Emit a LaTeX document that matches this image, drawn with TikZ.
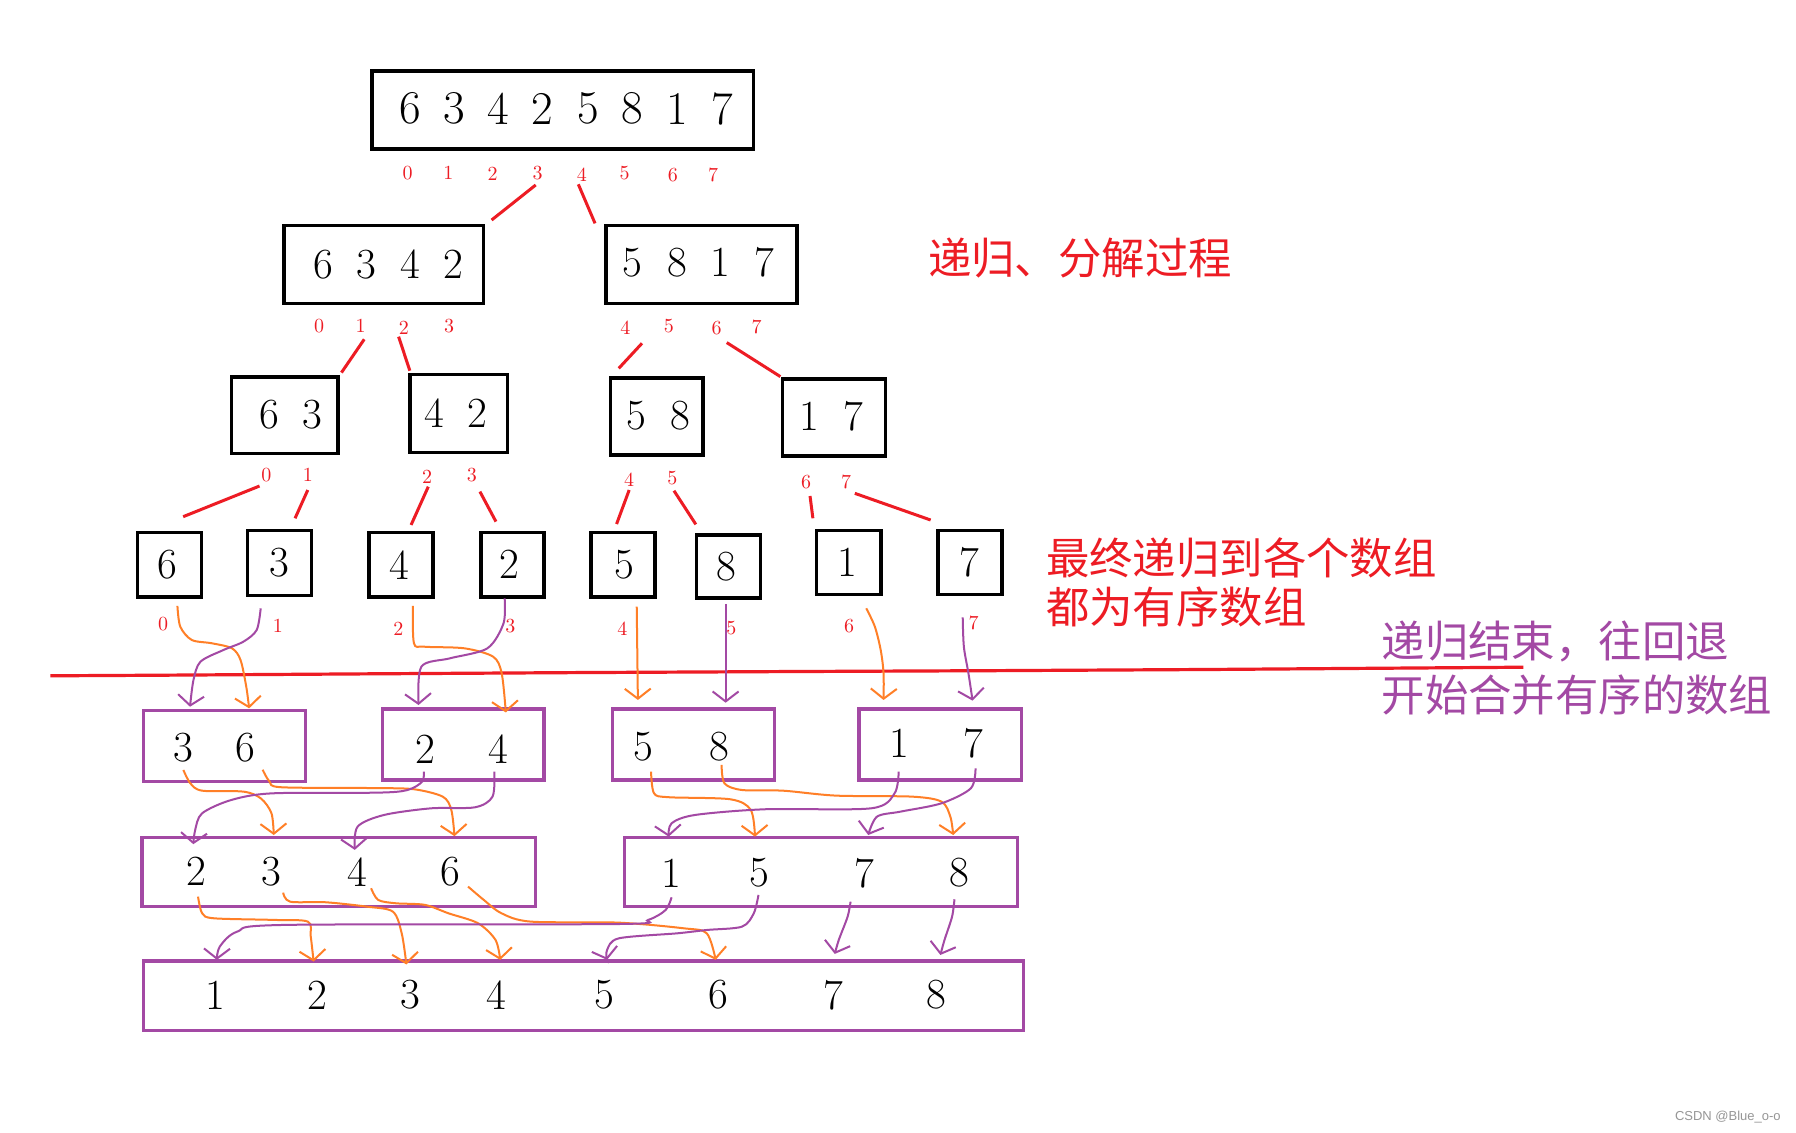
\documentclass[tikz,border=0pt]{standalone}
\usepackage{fontspec}
\newfontfamily\cjk{Noto Sans CJK SC}
\newfontfamily\wmfont{Liberation Sans}
\usetikzlibrary{arrows.meta,fit}
\definecolor{pred}{RGB}{237,28,36}
\definecolor{porange}{RGB}{255,127,39}
\definecolor{ppurple}{RGB}{163,73,164}
\definecolor{wmgray}{RGB}{150,150,150}
\begin{document}
\begin{tikzpicture}[x=0.5727pt,y=-0.5727pt,
  blackbox/.style={draw=black,line width=1.8pt,inner sep=0pt,rectangle},
  purplebox/.style={draw=ppurple,line width=1.6pt,inner sep=0pt,rectangle},
  dig/.style={inner sep=0pt,font=\fontsize{21.5}{24}\selectfont},
  bigdig/.style={inner sep=0pt,font=\fontsize{23.5}{26}\selectfont},
  idx/.style={inner sep=0pt,text=pred,font=\fontsize{10}{12}\selectfont},
  treeline/.style={draw=pred,line width=1.5pt},
  sepline/.style={draw=pred,line width=1.6pt},
  omove/.style={draw=porange,line width=1pt,-{Straight Barb[length=5pt,width=13pt]}},
  pmove/.style={draw=ppurple,line width=1pt,-{Straight Barb[length=5pt,width=13pt]}},
  redtext/.style={text=pred,font=\cjk\fontsize{21.7}{26}\selectfont,anchor=west,inner sep=0pt},
  purpletext/.style={text=ppurple,font=\cjk\fontsize{21.7}{26}\selectfont,anchor=west,inner sep=0pt},
  wmark/.style={text=wmgray,font=\wmfont\fontsize{6.5}{8}\selectfont,anchor=east,inner sep=0pt}
]
\fill[white] (0,0) rectangle (1568,989);
\useasboundingbox (0,0) rectangle (1568,989);

% ---------- level 1 ----------
\node[blackbox,fit={(325,62) (658,130)}] (T) {};
\foreach \d/\x [count=\i] in {6/358.6,3/396.6,4/435.1,2/473.8,5/513.6,8/552.4,1/590.9,7/630.2}
  \node[bigdig] (t\i) at (\x,95) {\d};
\foreach \d/\x/\y in {0/355.9/150.7,1/391.4/150.7,2/430.1/152.2,3/469.4/150.7,4/508.1/152.2,5/545.3/150.7,6/587.5/152.8,7/622.5/152.8}
  \node[idx] (ti\d) at (\x,\y) {\d};
\draw[treeline] (467.7,161.5) -- (429.2,192.1);
\draw[treeline] (504.9,160.9) -- (519.5,195);

% ---------- level 2 ----------
\node[blackbox,fit={(248,197) (422,265)}] (La) {};
\node[blackbox,fit={(529,197) (696,265)}] (Lb) {};
\foreach \d/\x [count=\i] in {6/282,3/320,4/358,2/396}
  \node[dig] (la\i) at (\x,231) {\d};
\foreach \d/\x [count=\i] in {5/552,8/591,1/629,7/667}
  \node[dig] (lb\i) at (\x,229) {\d};
\foreach \d/\x/\y in {0/278.6/284.6,1/314.9/284.6,2/352.7/285.8,3/392/284.6,4/546/285.8,5/583.9/284.6,6/625.6/286.6,7/660.6/285.8}
  \node[idx] (li\d) at (\x,\y) {\d};
\draw[treeline] (318,296.2) -- (298.1,325.3);
\draw[treeline] (348,293.9) -- (357.8,323.6);
\draw[treeline] (560.5,299.7) -- (540.2,321.6);
\draw[treeline] (634.5,299.1) -- (681.3,328.8);

% ---------- level 3 ----------
\node[blackbox,fit={(202,329) (295,396)}] (Ma) {};
\node[blackbox,fit={(358,327) (443,395)}] (Mb) {};
\node[blackbox,fit={(533,330) (614,397)}] (Mc) {};
\node[blackbox,fit={(683,331) (773,398)}] (Md) {};
\node[dig] (ma1) at (235,362) {6};
\node[dig] (ma2) at (273,362) {3};
\node[dig] (mb1) at (379,361) {4};
\node[dig] (mb2) at (417,361) {2};
\node[dig] (mc1) at (556,363) {5};
\node[dig] (mc2) at (594,363) {8};
\node[dig] (md1) at (707,363) {1};
\node[dig] (md2) at (745,363) {7};
\foreach \d/\x/\y in {0/232.6/414.7,1/268.7/414.7,2/372.9/416.1,3/412/414.7,4/549.3/419,5/587/417.6,6/703.7/420.5,7/738.8/420.5}
  \node[idx] (mi\d) at (\x,\y) {\d};
\draw[treeline] (226.6,424.3) -- (159.9,451.1);
\draw[treeline] (268.7,427.8) -- (257.6,452.5);
\draw[treeline] (373.9,424.9) -- (358.9,458.3);
\draw[treeline] (419,429.2) -- (433,455.4);
\draw[treeline] (549.3,427.8) -- (538.3,457.5);
\draw[treeline] (588.4,428.4) -- (607.5,457.8);
\draw[treeline] (707.2,433) -- (709.7,452.5);
\draw[treeline] (746.3,430.7) -- (812.5,454);

% ---------- level 4 ----------
\foreach \d/\xa/\ya/\xb/\yb/\dx [count=\i] in {6/120/465/176/521/146,3/216/463/272/520/244,4/322/465/378/521/349,2/420/465/475/521/445,5/516/465/572/521/545,8/608/467/664/522/634,1/713/463/769/519/740,7/819/463/875/519/846}{
  \node[blackbox,fit={(\xa,\ya) (\xb,\yb)}] (S\i) {};
  \node[dig] (s\i) at (\dx,{(\ya+\yb)/2}) {\d};
}
\foreach \d/\x/\y in {0/142.4/545,1/242.6/546.2,2/347.8/548.6,3/445.6/546.2,4/543.3/548.6,5/638.5/548.6,6/741.3/546.2,7/850/544}
  \node[idx] (si\d) at (\x,\y) {\d};

% ---------- separator ----------
\draw[sepline] (44,590) -- (137,589.5) -- (320,588.3) -- (503,587.2) -- (686,586.3) -- (870,585.5) -- (1053,584.5) -- (1330,582.5);

% ---------- texts ----------
\node[redtext] (txt1) at (810,225) {递归、分解过程};
\node[redtext] (txt2) at (913,487) {最终递归到各个数组};
\node[redtext] (txt3) at (913,530) {都为有序数组};
\node[purpletext] (txt4) at (1206,560) {递归结束，往回退};
\node[purpletext] (txt5) at (1206,607) {开始合并有序的数组};

% ---------- level 5 ----------
\node[purplebox,fit={(125,620) (267,682)}] (Pa) {};
\node[purplebox,fit={(334,619) (475,681)}] (Pb) {};
\node[purplebox,fit={(535,619) (676,681)}] (Pc) {};
\node[purplebox,fit={(750,619) (892,681)}] (Pd) {};
\node[dig] (pa1) at (160,653) {3};
\node[dig] (pa2) at (214,653) {6};
\node[dig] (pb1) at (371,654) {2};
\node[dig] (pb2) at (435,654) {4};
\node[dig] (pc1) at (562,652) {5};
\node[dig] (pc2) at (628,652) {8};
\node[dig] (pd1) at (785,649) {1};
\node[dig] (pd2) at (850,649) {7};

% arrows level 4 -> 5
\draw[omove] plot[smooth,tension=0.5] coordinates {(154.9,529) (157.4,547.1) (167.4,558.7) (185,561.6) (202.5,566) (210,576.2) (215,599.5) (217.5,618.4)};
\draw[pmove] plot[smooth,tension=0.5] coordinates {(227.6,531.1) (224.1,550) (212.5,560.2) (195,567.5) (175,577.7) (168.9,593.7) (165.9,617)};
\draw[omove] plot[smooth,tension=0.5] coordinates {(360.4,529) (361.4,561.6) (370.4,564.6) (405.5,566) (430.5,573.3) (438,587.8) (441.6,622)};
\draw[pmove] plot[smooth,tension=0.5] coordinates {(440.6,522.4) (439.6,544.2) (425.5,566) (393,574.7) (367.9,582) (365.4,615.5)};
\draw[omove] (555.9,529.6) -- (556.9,611.1);
\draw[pmove] (633.5,527.3) -- (633.5,613.5);
\draw[omove] plot[smooth,tension=0.5] coordinates {(756.3,531.1) (763.8,547.1) (768.9,567.5) (771.4,587.8) (771.4,611.1)};
\draw[pmove] plot[smooth,tension=0.5] coordinates {(840.5,539) (841.5,564.6) (845.5,587.8) (849.1,611.7)};

% ---------- level 6 ----------
\node[purplebox,fit={(124,731.5) (467.5,791.5)}] (Qa) {};
\node[purplebox,fit={(545.4,731.5) (888.6,791.5)}] (Qb) {};
\node[dig] (qa1) at (171.4,761) {2};
\node[dig] (qa2) at (237,761) {3};
\node[dig] (qa3) at (312.3,761) {4};
\node[dig] (qa4) at (393.2,761) {6};
\node[dig] (qb1) at (586.3,762) {1};
\node[dig] (qb2) at (663.2,762) {5};
\node[dig] (qb3) at (754.4,762) {7};
\node[dig] (qb4) at (837.3,762) {8};

% arrows level 5 -> 6
\draw[omove] plot[smooth,tension=0.5] coordinates {(160.1,672.2) (166.2,683.9) (176.5,690.3) (212.4,691.1) (227.7,697) (237,710) (239,729)};
\draw[omove] plot[smooth,tension=0.5] coordinates {(229.3,672) (235.4,682.4) (245.7,687.3) (325,688) (361,689) (386.5,695.5) (394,707) (396.8,730)};
\draw[pmove] plot[smooth,tension=0.5] coordinates {(370,673.7) (368.6,682.4) (355.8,689.7) (330,692) (238,692.6) (202,698.4) (176.5,710) (170.4,724.6) (168.8,737)};
\draw[pmove] plot[smooth,tension=0.5] coordinates {(431.6,673.7) (430,695.5) (414.7,704.8) (376.3,705.7) (335.3,711.5) (312.2,721.7) (309.7,742)};
\draw[omove] plot[smooth,tension=0.5] coordinates {(568.4,673.7) (571,692.6) (583.8,696) (637.6,697.8) (655.5,707.1) (659.1,730.4)};
\draw[omove] plot[smooth,tension=0.5] coordinates {(630,667.8) (632.5,683.9) (647.8,689.7) (683.7,690.3) (729.8,694.6) (796.4,695.5) (822,699.9) (829.7,713) (832.2,729)};
\draw[pmove] plot[smooth,tension=0.5] coordinates {(784.6,673.7) (781,692.6) (760.5,705.7) (668.3,706.5) (606.8,711.5) (586.3,718.8) (583.8,730.4)};
\draw[pmove] plot[smooth,tension=0.5] coordinates {(851.7,670.8) (847.6,688.2) (822,701.3) (786.1,708.6) (765.6,713) (758,729)};

% ---------- level 7 ----------
\node[purplebox,fit={(125.3,839) (893.7,899.8)}] (R) {};
\foreach \d/\x [count=\i] in {1/187.8,2/277.4,3/358.4,4/433.7,5/527.4,6/627.3,7/727.2,8/817.9}
  \node[dig] (r\i) at (\x,868.6) {\d};

% arrows level 6 -> 7
\draw[omove] plot[smooth,tension=0.5] coordinates {(172.9,782.8) (176.5,797.3) (186.7,801.7) (238,803.1) (268.7,804.6) (271.3,817.6) (273.8,839.5)};
\draw[omove] plot[smooth,tension=0.5] coordinates {(247.2,779.3) (253.3,787.2) (284.1,787.7) (320,791.5) (343,795.9) (350.7,814.8) (354.8,842)};
\draw[omove] plot[smooth,tension=0.5] coordinates {(324,775.5) (330.2,785.7) (345.6,788.6) (371,790) (391.7,797.4) (417.3,806) (432.6,820.6) (436.7,838)};
\draw[omove] plot[smooth,tension=0.5] coordinates {(408.6,774) (422.4,785.7) (437.8,797.3) (463.4,804.6) (540,805.5) (596.6,810.4) (617,814.8) (624.8,838)};
\draw[pmove] plot[smooth,tension=0.5] coordinates {(586.3,783.4) (581.2,794.4) (565.9,803.1) (540.3,806.7) (248.2,807.5) (207.2,813.3) (191.9,826.4) (189.3,838)};
\draw[pmove] plot[smooth,tension=0.5] coordinates {(662.2,781.3) (658.1,797.3) (647.8,809) (617.1,811.9) (591.5,814.8) (540.3,819.2) (530,829.4) (530,838)};
\draw[pmove] plot[smooth,tension=0.5] coordinates {(742.6,787.2) (740,800.3) (732.3,820.6) (728.8,832.8)};
\draw[pmove] plot[smooth,tension=0.5] coordinates {(833.3,785.1) (831.2,800.3) (824.6,820.6) (821,833.7)};

% ---------- watermark ----------
\node[wmark] (wm) at (1555,975) {CSDN @Blue\_o-o};
\end{tikzpicture}
\end{document}
